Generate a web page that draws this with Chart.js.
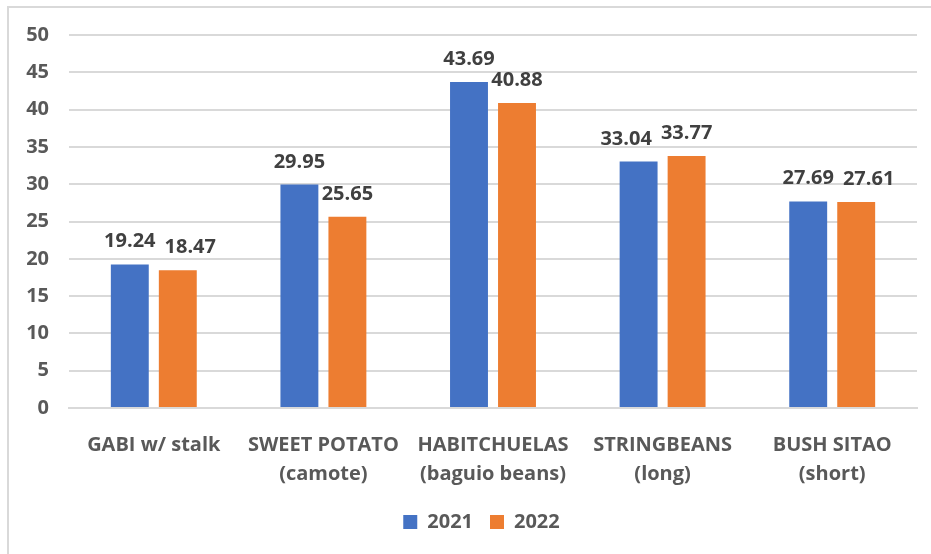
<!DOCTYPE html>
<html>
<head>
<meta charset="utf-8">
<script src="https://cdn.jsdelivr.net/npm/chart.js@4.4.1/dist/chart.umd.min.js"></script>
<style>
    body { margin: 0; background: #fff; }
    .frame {
        position: absolute; left: 7px; top: 6px; right: -5px; bottom: -5px;
        border-left: 2px solid #d9d9d9; border-top: 2px solid #d9d9d9;
    }
    .chart-box { position: absolute; left: 0; top: 0; width: 931px; height: 554px; }
</style>
</head>
<body>
<div class="frame"></div>
<div class="chart-box"><canvas id="chart1" width="931" height="554"></canvas></div>
<script>
// Dữ liệu biểu đồ
const categories = [
    ['GABI w/ stalk'],
    ['SWEET POTATO', '(camote)'],
    ['HABITCHUELAS', '(baguio beans)'],
    ['STRINGBEANS', '(long)'],
    ['BUSH SITAO', '(short)']
];
const values2021 = [19.24, 29.95, 43.69, 33.04, 27.69];
const values2022 = [18.47, 25.65, 40.88, 33.77, 27.61];
const yTicks = [0, 5, 10, 15, 20, 25, 30, 35, 40, 45, 50];

const fontFamily = '"Open Sans", "Liberation Sans", sans-serif';

// Ghi giá trị trên đầu mỗi cột, nhãn thấp hơn bị đẩy sang bên nếu chồng nhau
const barLabels = {
    id: 'barLabels',
    afterDatasetsDraw(chart) {
        const c = chart.ctx;
        c.save();
        c.font = 'bold 20px ' + fontFamily;
        c.fillStyle = '#404040';
        c.textAlign = 'center';
        c.textBaseline = 'alphabetic';
        const a = chart.getDatasetMeta(0).data;
        const b = chart.getDatasetMeta(1).data;
        const d0 = chart.data.datasets[0].data;
        const d1 = chart.data.datasets[1].data;
        const gap = 9;
        a.forEach((barA, j) => {
            const barB = b[j];
            const tA = d0[j].toFixed(2), tB = d1[j].toFixed(2);
            const wA = c.measureText(tA).width, wB = c.measureText(tB).width;
            let xA = barA.x, xB = barB.x;
            const yA = barA.y - 17, yB = barB.y - 17;
            const need = (wA + wB) / 2 + gap - (xB - xA);
            if (need > 0 && Math.abs(yA - yB) < 20) {
                if (d0[j] < d1[j]) xA -= need; else xB += need;
            }
            c.fillText(tA, xA, yA);
            c.fillText(tB, xB, yB);
        });
        c.restore();
    }
};

// Dời chú thích sang phải một chút
const legendShift = {
    id: 'legendShift',
    afterLayout(chart) {
        chart.legend.left += 13;
        chart.legend.right += 13;
    }
};

const ctx1 = document.getElementById('chart1').getContext('2d');
const chart1 = new Chart(ctx1, {
    type: 'bar',
    data: {
        labels: categories,
        datasets: [{
            label: '2021',
            data: values2021,
            backgroundColor: '#4472C4'
        }, {
            label: '2022',
            data: values2022,
            backgroundColor: '#ED7D31'
        }]
    },
    options: {
        responsive: false,
        animation: false,
        categoryPercentage: 0.566,
        barPercentage: 0.79,
        layout: { padding: { left: 20, right: 14, top: 35, bottom: 12 } },
        plugins: {
            tooltip: { enabled: false },
            legend: {
                position: 'bottom',
                labels: {
                    boxWidth: 14,
                    boxHeight: 14,
                    padding: 17,
                    color: '#595959',
                    font: { family: fontFamily, size: 20, weight: 'bold' }
                }
            }
        },
        scales: {
            x: {
                afterFit(scale) { scale.height = 87; },
                grid: { display: false },
                border: { color: '#d9d9d9', width: 2 },
                ticks: {
                    color: '#595959',
                    padding: 15,
                    font: { family: fontFamily, size: 20, weight: 'bold', lineHeight: 1.45 }
                }
            },
            y: {
                min: 0,
                max: 50,
                afterFit(scale) { scale.width = 49; },
                afterBuildTicks(scale) { scale.ticks = yTicks.map(v => ({ value: v })); },
                grid: { color: '#d9d9d9', lineWidth: 2, drawTicks: false },
                border: { display: false },
                ticks: {
                    color: '#595959',
                    padding: 20,
                    font: { family: fontFamily, size: 20, weight: 'bold' }
                }
            }
        }
    },
    plugins: [barLabels, legendShift]
});
</script>
</body>
</html>
